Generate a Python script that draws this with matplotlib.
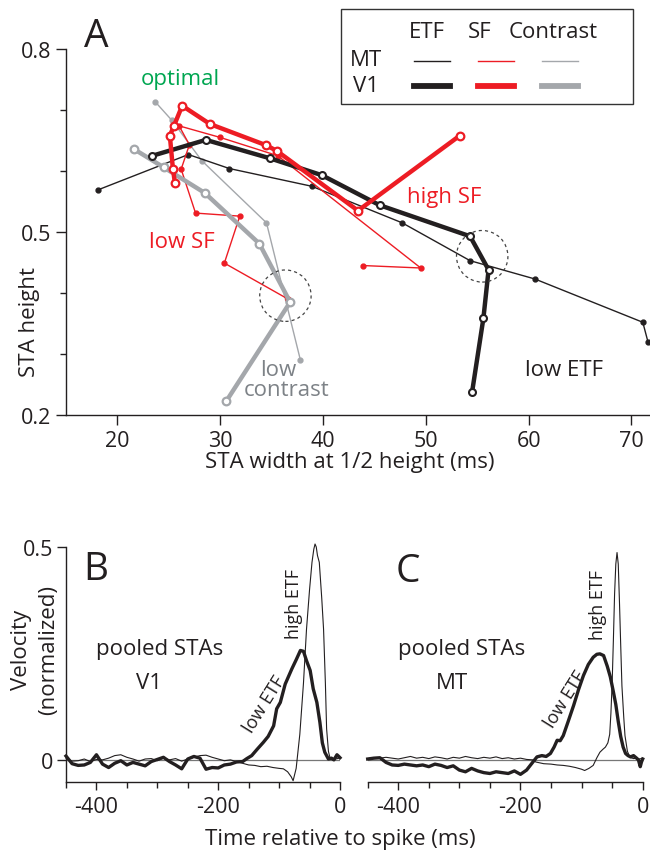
import matplotlib
matplotlib.use('Agg')
import matplotlib.pyplot as plt
from matplotlib.patches import Ellipse, Rectangle
from matplotlib.lines import Line2D

plt.rcParams['font.family'] = ['Open Sans', 'DejaVu Sans']

W, H = 650, 853
def fx(x): return x / W
def fy(y): return 1 - y / H

BLACK = '#231f20'
RED = '#ed1c24'
GRAY = '#a4a7ab'
GREEN = '#00a651'
DGRAY = '#7d8287'
FS = 16
TFS = 15.5

# ---------------- Panel A data ----------------
mt_etf_w = [18.1, 26.9, 30.9, 38.9, 47.7, 54.3, 60.6, 71.1, 71.6]
mt_etf_h = [0.569, 0.627, 0.604, 0.575, 0.515, 0.453, 0.423, 0.352, 0.320]
v1_etf_w = [23.4, 28.6, 34.8, 39.9, 45.5, 54.3, 56.1, 55.6, 54.5]
v1_etf_h = [0.625, 0.651, 0.621, 0.593, 0.544, 0.493, 0.438, 0.359, 0.238]
mt_sf_w = [36.6, 30.4, 31.9, 27.6, 26.2, 27.0, 26.0, 30.0, 35.6, 49.5, 43.9]
mt_sf_h = [0.390, 0.449, 0.526, 0.531, 0.603, 0.643, 0.674, 0.655, 0.625, 0.441, 0.445]
v1_sf_w = [53.3, 43.4, 35.5, 34.5, 29.0, 26.3, 25.5, 25.1, 25.4, 25.6]
v1_sf_h = [0.658, 0.535, 0.633, 0.642, 0.677, 0.707, 0.674, 0.658, 0.603, 0.580]
mt_con_w = [23.7, 25.3, 28.2, 34.5, 37.8]
mt_con_h = [0.713, 0.683, 0.617, 0.515, 0.290]
v1_con_w = [21.6, 24.5, 28.5, 33.8, 36.8, 30.6]
v1_con_h = [0.636, 0.606, 0.564, 0.481, 0.385, 0.223]

xticks_A = [20, 30, 40, 50, 60, 70]
yticks_A = [0.2, 0.5, 0.8]
yminor_A = [0.3, 0.4, 0.6, 0.7]

# ---------------- Panel B data (V1) ----------------
b_low_t = [-450, -440, -430, -420, -410, -400, -390, -380, -370, -360, -350, -340, -330, -320,
           -310, -300, -290, -280, -270, -260, -250, -240, -230, -220, -210, -200, -190, -180,
           -170, -160, -153, -145, -136, -126, -118, -109, -104, -98, -90, -79, -72, -65, -60,
           -55, -49, -44, -38, -33, -29, -25, -19, -14, -10, -5, -2, 0]
b_low_v = [0.009, -0.009, -0.013, -0.012, -0.006, 0.012, -0.010, -0.018, -0.008, -0.002, -0.012,
           -0.006, -0.010, -0.014, -0.004, 0.001, 0.006, -0.004, -0.012, -0.021, 0.002, 0.008,
           0.004, -0.022, -0.018, -0.019, -0.012, -0.010, -0.005, -0.004, 0.003, 0.010, 0.025,
           0.041, 0.055, 0.080, 0.120, 0.135, 0.178, 0.214, 0.235, 0.257, 0.255, 0.233, 0.210,
           0.167, 0.135, 0.088, 0.040, 0.018, 0.002, 0.004, 0.000, 0.012, 0.008, 0.005]
b_high_t = [-450, -440, -430, -420, -410, -400, -390, -380, -370, -360, -350, -340, -330, -320,
            -310, -300, -290, -280, -270, -260, -250, -240, -230, -220, -210, -200, -190, -180,
            -170, -160, -150, -140, -130, -120, -110, -100, -93, -86, -80, -77, -72, -66, -60,
            -55, -50, -46, -43, -41, -39, -37, -34, -30, -27, -24, -22, -19, -16, -12, -8, -4, 0]
b_high_v = [0.004, -0.003, -0.002, 0.002, -0.004, 0.001, 0.000, 0.004, 0.010, 0.012, 0.006,
            0.002, -0.003, 0.002, 0.003, -0.002, 0.004, 0.000, 0.003, -0.003, 0.002, 0.006,
            0.010, 0.011, 0.006, 0.002, -0.002, 0.000, -0.004, -0.008, -0.012, -0.013, -0.016,
            -0.015, -0.018, -0.020, -0.021, -0.028, -0.040, -0.049, -0.020, 0.060, 0.180, 0.307,
            0.400, 0.464, 0.495, 0.507, 0.500, 0.480, 0.464, 0.380, 0.307, 0.180, 0.073, 0.020,
            0.002, 0.000, 0.002, 0.003, 0.005]

# ---------------- Panel C data (MT) ----------------
c_low_t = [-450, -440, -430, -420, -410, -400, -390, -380, -370, -360, -350, -340, -330, -320,
           -310, -300, -290, -280, -270, -260, -250, -240, -230, -220, -210, -200, -190, -184,
           -178, -173, -165, -158, -151, -145, -140, -135, -130, -122, -113, -105, -97, -89, -81,
           -75, -70, -64, -58, -53, -48, -44, -40, -36, -32, -28, -24, -20, -15, -10, -7, -4, -2, 0]
c_low_v = [0.002, 0.004, 0.005, -0.006, -0.012, -0.013, -0.010, -0.012, -0.014, -0.012, -0.016,
           -0.010, -0.013, -0.018, -0.014, -0.024, -0.028, -0.020, -0.026, -0.030, -0.032, -0.028,
           -0.030, -0.032, -0.026, -0.034, -0.024, -0.013, -0.002, 0.007, 0.010, 0.008, 0.015,
           0.030, 0.046, 0.045, 0.057, 0.090, 0.128, 0.165, 0.198, 0.224, 0.241, 0.248, 0.249,
           0.245, 0.220, 0.195, 0.160, 0.130, 0.090, 0.055, 0.030, 0.015, 0.010, 0.007, 0.010,
           0.004, 0.000, -0.016, -0.005, 0.002]
c_high_t = [-450, -440, -430, -420, -410, -400, -390, -380, -370, -360, -350, -340, -330, -320,
            -310, -300, -290, -280, -270, -260, -250, -240, -230, -220, -210, -200, -190, -180,
            -175, -162, -150, -140, -130, -120, -110, -100, -95, -88, -81, -75, -70, -65, -61,
            -57, -54, -52, -50, -48, -46, -44, -42, -40, -38, -36, -34, -31, -29, -25, -21, -15,
            -10, -5, 0]
c_high_v = [0.003, 0.005, 0.004, 0.006, 0.004, 0.002, 0.005, 0.008, 0.004, 0.006, 0.003, 0.007,
            0.005, 0.002, 0.006, 0.004, 0.008, 0.005, 0.003, 0.006, 0.004, 0.007, 0.003, 0.005,
            0.002, 0.004, 0.001, 0.000, -0.005, -0.009, -0.010, -0.012, -0.013, -0.015, -0.018,
            -0.022, -0.025, -0.020, -0.013, 0.005, 0.018, 0.025, 0.030, 0.040, 0.060, 0.110,
            0.180, 0.280, 0.390, 0.460, 0.487, 0.460, 0.370, 0.270, 0.174, 0.100, 0.057, 0.020,
            0.006, 0.003, 0.004, 0.002, 0.004]

xticks_BC = [-400, -200, 0]
xminor_BC = [-450, -350, -300, -250, -150, -100, -50]
yticks_B = [0, 0.5]

fig = plt.figure(figsize=(6.5, 8.53), dpi=100)

# ---------------- Panel A ----------------
axA = fig.add_axes([fx(66), fy(416), (650 - 66) / W, (416 - 50) / H])
axA.set_xlim(15, 71.8)
axA.set_ylim(0.2, 0.8)

thin_lw, thick_lw = 1.0, 3.2
axA.plot(mt_con_w, mt_con_h, color=GRAY, lw=thin_lw, marker='o', ms=3.5, mec=GRAY, mfc=GRAY, clip_on=False, zorder=3)
axA.plot(mt_etf_w, mt_etf_h, color=BLACK, lw=thin_lw, marker='o', ms=3.5, mec=BLACK, mfc=BLACK, clip_on=False, zorder=3)
axA.plot(mt_sf_w, mt_sf_h, color=RED, lw=thin_lw, marker='o', ms=3.5, mec=RED, mfc=RED, clip_on=False, zorder=3)
axA.plot(v1_con_w, v1_con_h, color=GRAY, lw=thick_lw, marker='o', ms=5.5, mec=GRAY, mfc='white', mew=1.6, clip_on=False, zorder=4)
axA.plot(v1_etf_w, v1_etf_h, color=BLACK, lw=thick_lw, marker='o', ms=5.0, mec=BLACK, mfc='white', mew=1.5, clip_on=False, zorder=4)
axA.plot(v1_sf_w, v1_sf_h, color=RED, lw=thick_lw, marker='o', ms=5.5, mec=RED, mfc='white', mew=1.6, clip_on=False, zorder=5)

axA.add_patch(Ellipse((36.34, 0.3956), 5.0, 0.0843, fill=False, ls=(0, (2.5, 2.5)), lw=0.9, ec='#444444', zorder=6))
axA.add_patch(Ellipse((55.48, 0.4602), 5.0, 0.0846, fill=False, ls=(0, (2.5, 2.5)), lw=0.9, ec='#444444', zorder=6))

for s in ['top', 'right']:
    axA.spines[s].set_visible(False)
axA.spines['left'].set_bounds(0.2, 0.8)
for s in ['left', 'bottom']:
    axA.spines[s].set_linewidth(1.0)
    axA.spines[s].set_color(BLACK)
axA.set_xticks(xticks_A)
axA.set_yticks(yticks_A)
axA.set_yticks(yminor_A, minor=True)
axA.set_yticklabels(['0.2', '0.5', '0.8'])
axA.tick_params(axis='both', which='major', direction='out', length=7.5, width=1.0, labelsize=TFS, colors=BLACK, pad=3)
axA.tick_params(axis='y', which='minor', direction='out', length=4, width=1.0, colors=BLACK)
axA.tick_params(axis='x', pad=3.5)

fig.text(fx(96), fy(37), 'A', fontsize=28, ha='center', va='center', color=BLACK)
fig.text(fx(180), fy(80), 'optimal', fontsize=FS, ha='center', va='center', color=GREEN)
fig.text(fx(182), fy(243), 'low SF', fontsize=FS, ha='center', va='center', color=RED)
fig.text(fx(444), fy(197), 'high SF', fontsize=FS, ha='center', va='center', color=RED)
fig.text(fx(564), fy(371), 'low ETF', fontsize=FS, ha='center', va='center', color=BLACK)
fig.text(fx(278), fy(371), 'low', fontsize=FS, ha='center', va='center', color=DGRAY)
fig.text(fx(287), fy(391), 'contrast', fontsize=FS, ha='center', va='center', color=DGRAY)
fig.text(fx(30), fy(322), 'STA height', fontsize=FS, rotation=90, ha='center', va='center', color=BLACK)
fig.text(fx(350), fy(463), 'STA width at 1/2 height (ms)', fontsize=FS, ha='center', va='center', color=BLACK)

# legend box
fig.add_artist(Rectangle((fx(340.7), fy(105)), (633.3 - 340.7) / W, (105 - 10) / H,
                         transform=fig.transFigure, fill=False, ec='#333333', lw=1.0))
fig.text(fx(427), fy(33), 'ETF', fontsize=FS, ha='center', va='center', color=BLACK)
fig.text(fx(480), fy(33), 'SF', fontsize=FS, ha='center', va='center', color=BLACK)
fig.text(fx(553.5), fy(33), 'Contrast', fontsize=FS, ha='center', va='center', color=BLACK)
fig.text(fx(366), fy(60), 'MT', fontsize=FS, ha='center', va='center', color=BLACK)
fig.text(fx(366), fy(87), 'V1', fontsize=FS, ha='center', va='center', color=BLACK)
for (x0, x1), c in zip([(414, 450), (478, 514), (542, 578)], [BLACK, RED, GRAY]):
    fig.add_artist(Line2D([fx(x0), fx(x1)], [fy(62.3), fy(62.3)], transform=fig.transFigure, color=c, lw=1.0))
    fig.add_artist(Line2D([fx(x0), fx(x1)], [fy(86.7), fy(86.7)], transform=fig.transFigure, color=c, lw=4.2))

# ---------------- Panels B and C ----------------
def setup_bottom(ax, left_spine):
    ax.set_xlim(-450, 0)
    ax.set_ylim(-0.052, 0.5)
    for s in ['top', 'right']:
        ax.spines[s].set_visible(False)
    ax.spines['bottom'].set_linewidth(1.0)
    ax.spines['bottom'].set_color(BLACK)
    ax.set_xticks(xticks_BC)
    ax.set_xticklabels(['-400', '-200', '0'])
    ax.set_xticks(xminor_BC, minor=True)
    ax.tick_params(axis='x', which='major', direction='out', length=6, width=1.0, labelsize=TFS, colors=BLACK, pad=4)
    ax.tick_params(axis='x', which='minor', direction='out', length=4, width=1.0, colors=BLACK)
    if left_spine:
        ax.spines['left'].set_linewidth(1.0)
        ax.spines['left'].set_color(BLACK)
        ax.set_yticks(yticks_B)
        ax.set_yticklabels(['0', '0.5'])
        ax.tick_params(axis='y', direction='out', length=6.5, width=1.0, labelsize=TFS, colors=BLACK, pad=3)
        ax.yaxis.get_major_ticks()[0].tick1line.set_color('#777777')
    else:
        ax.spines['left'].set_visible(False)
        ax.set_yticks([])
    ax.axhline(0, color='#777777', lw=0.9, zorder=1)

axB = fig.add_axes([fx(66), fy(783), (340 - 66) / W, (783 - 548) / H])
setup_bottom(axB, True)
axB.plot(b_high_t, b_high_v, color=BLACK, lw=0.8, clip_on=False, zorder=3)
axB.plot(b_low_t, b_low_v, color=BLACK, lw=2.4, clip_on=False, zorder=4)

axC = fig.add_axes([fx(367.7), fy(783), (642.7 - 367.7) / W, (783 - 548) / H])
setup_bottom(axC, False)
axC.plot(c_high_t, c_high_v, color=BLACK, lw=0.8, clip_on=False, zorder=3)
axC.plot(c_low_t, c_low_v, color=BLACK, lw=2.4, clip_on=False, zorder=4)

fig.text(fx(96), fy(570), 'B', fontsize=28, ha='center', va='center', color=BLACK)
fig.text(fx(408), fy(572), 'C', fontsize=28, ha='center', va='center', color=BLACK)
fig.text(fx(160), fy(650), 'pooled STAs', fontsize=FS, ha='center', va='center', color=BLACK)
fig.text(fx(149), fy(684), 'V1', fontsize=FS, ha='center', va='center', color=BLACK)
fig.text(fx(462), fy(650), 'pooled STAs', fontsize=FS, ha='center', va='center', color=BLACK)
fig.text(fx(452), fy(684), 'MT', fontsize=FS, ha='center', va='center', color=BLACK)
fig.text(fx(264), fy(705), 'low ETF', fontsize=13, rotation=58, ha='center', va='center', color=BLACK)
fig.text(fx(294), fy(604), 'high ETF', fontsize=13, rotation=90, ha='center', va='center', color=BLACK)
fig.text(fx(565), fy(700), 'low ETF', fontsize=13, rotation=58, ha='center', va='center', color=BLACK)
fig.text(fx(598), fy(605), 'high ETF', fontsize=13, rotation=90, ha='center', va='center', color=BLACK)
fig.text(fx(22), fy(650), 'Velocity', fontsize=FS, rotation=90, ha='center', va='center', color=BLACK)
fig.text(fx(49), fy(650), '(normalized)', fontsize=FS, rotation=90, ha='center', va='center', color=BLACK)
fig.text(fx(340), fy(840), 'Time relative to spike (ms)', fontsize=FS, ha='center', va='center', color=BLACK)

fig.savefig('out.png', dpi=100)
